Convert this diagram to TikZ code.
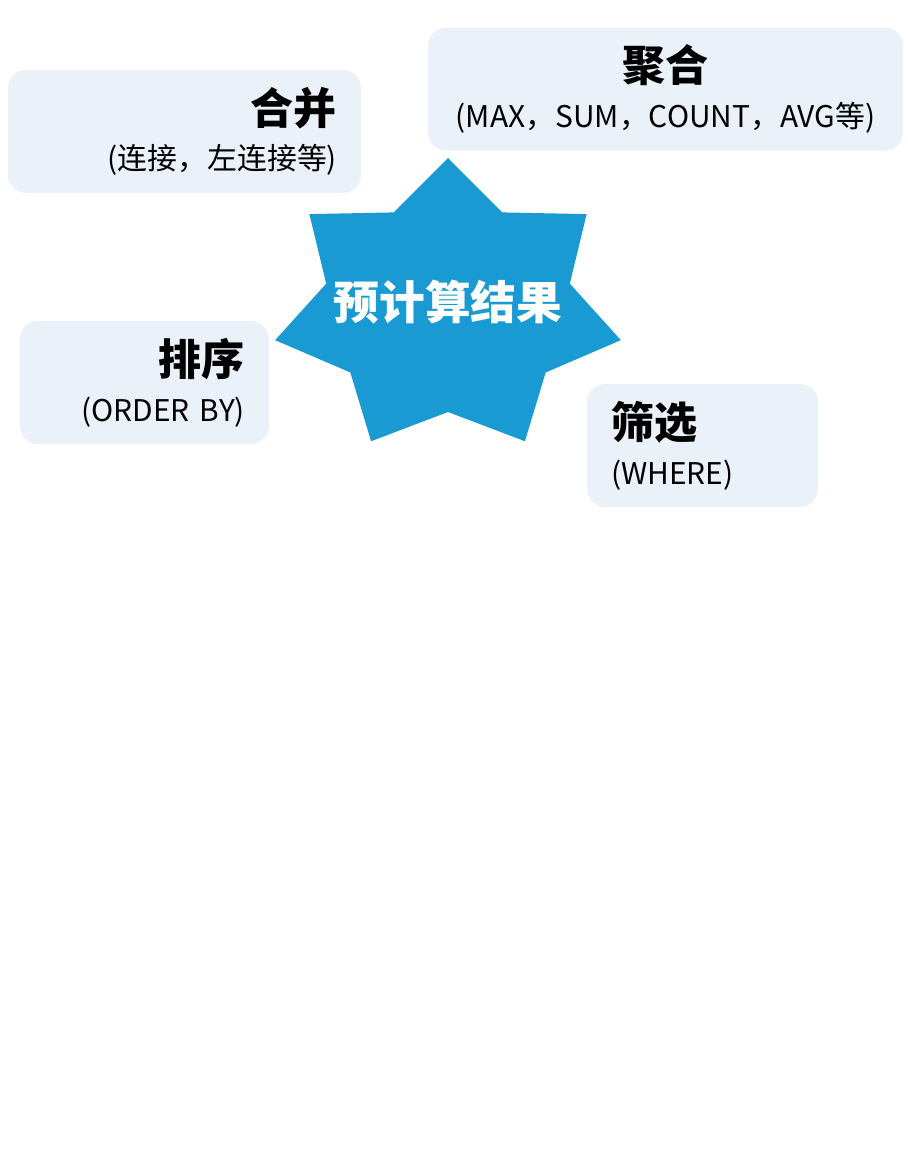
\documentclass[tikz,border=0pt]{standalone}
\usepackage{fontspec}
\setmainfont{Noto Sans CJK SC}
\definecolor{starblue}{RGB}{26,154,210}
\definecolor{boxfill}{RGB}{235,241,249}
\tikzset{
  opbox/.style={fill=boxfill, rounded corners=0.36cm, minimum height=2.46cm,
    inner xsep=0.48cm, inner ysep=0pt, font=\fontsize{17}{26}\selectfont},
}
\newcommand{\optitle}[1]{{\fontsize{24.5}{30}\selectfont\bfseries #1}}

\begin{document}
\begin{tikzpicture}[x=0.02cm, y=-0.02cm]
\fill[white] (0,0) rectangle (908,1166);
% star
\begin{scope}[shift={(448,307)}, xscale=1.19]
\fill[starblue] (-90:149)
  \foreach \k in {0,...,6} { -- (-90+\k*360/7+180/7:105) -- (-90+\k*360/7+360/7:149) } -- cycle;
\end{scope}
\node[text=white, font=\fontsize{26}{30}\selectfont\bfseries] (core) at (448,302) {预计算结果};
% boxes
\node[opbox, text width=6.1cm, align=right] (merge) at (184.5,131.5)
  {\optitle{合并}\\(连接，左连接等)};
\node[opbox, text width=8.54cm, align=center] (aggr) at (665.5,89)
  {\optitle{聚合}\\(MAX，SUM，COUNT，AVG等)};
\node[opbox, text width=4.02cm, align=right] (sort) at (144.5,382.5)
  {\optitle{排序}\\(ORDER BY)};
\node[opbox, text width=3.66cm, align=left] (filter) at (702.5,445.5)
  {\optitle{筛选}\\(WHERE)};
\end{tikzpicture}
\end{document}
